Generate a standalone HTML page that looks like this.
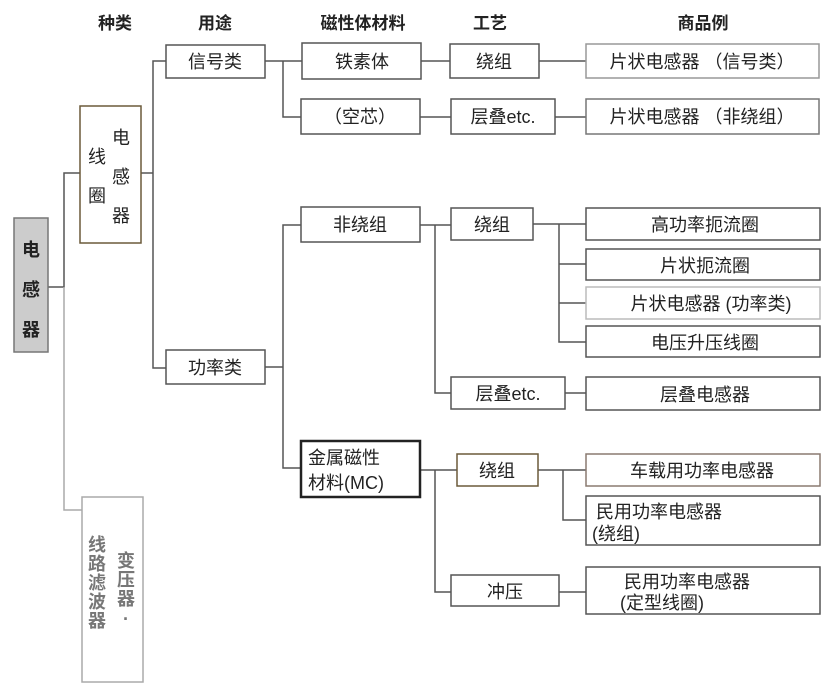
<!DOCTYPE html>
<html><head><meta charset="utf-8"><style>
html,body{margin:0;padding:0;background:#fff;}
svg{display:block;}
text{font-family:"Liberation Sans","Noto Sans CJK SC",sans-serif;fill:#222;}
</style></head><body>
<svg width="831" height="688" viewBox="0 0 831 688">
<g font-size="17" font-weight="bold" text-anchor="middle">
<text x="115" y="29">种类</text>
<text x="215" y="29">用途</text>
<text x="363" y="29">磁性体材料</text>
<text x="490" y="29">工艺</text>
<text x="703" y="29">商品例</text>
</g>
<g fill="none" stroke="#555" stroke-width="1.5">
<polyline points="48,287 64,287 64,173 80,173"/>
<polyline points="64,287 64,510 82,510" stroke="#aaa"/>
<polyline points="141,173 153,173"/>
<polyline points="166,61 153,61 153,368 166,368"/>
<polyline points="265,61 302,61"/>
<polyline points="283,61 283,117 301,117"/>
<polyline points="421,61 450,61"/>
<polyline points="420,117 451,117"/>
<polyline points="539,61 586,61"/>
<polyline points="555,117 586,117"/>
<polyline points="265,367 283,367"/>
<polyline points="301,225 283,225 283,468 301,468"/>
<polyline points="420,225 451,225"/>
<polyline points="435,225 435,393 451,393"/>
<polyline points="533,224 586,224"/>
<polyline points="559,224 559,342 586,342"/>
<polyline points="559,264 586,264"/>
<polyline points="559,303 586,303"/>
<polyline points="565,393 586,393"/>
<polyline points="420,470 457,470"/>
<polyline points="435,470 435,592 451,592"/>
<polyline points="538,470 586,470"/>
<polyline points="563,470 563,520 586,520"/>
<polyline points="559,592 586,592"/>
</g>
<g stroke-width="1.5" fill="#fff">
<rect x="14" y="218" width="34" height="134" fill="#ccc" stroke="#777"/>
<rect x="80" y="106" width="61" height="137" stroke="#6b5a3a"/>
<rect x="82" y="497" width="61" height="185" stroke="#aaa"/>
<rect x="166" y="45" width="99" height="33" stroke="#555"/>
<rect x="166" y="350" width="99" height="34" stroke="#555"/>
<rect x="302" y="43" width="119" height="36" stroke="#555"/>
<rect x="301" y="99" width="119" height="35" stroke="#555"/>
<rect x="301" y="207" width="119" height="35" stroke="#555"/>
<rect x="301" y="441" width="119" height="56" stroke="#222" stroke-width="2.5"/>
<rect x="450" y="44" width="89" height="34" stroke="#555"/>
<rect x="451" y="99" width="104" height="35" stroke="#555"/>
<rect x="451" y="208" width="82" height="32" stroke="#555"/>
<rect x="451" y="377" width="114" height="32" stroke="#555"/>
<rect x="457" y="454" width="81" height="32" stroke="#6b5a3a"/>
<rect x="451" y="575" width="108" height="31" stroke="#555"/>
<rect x="586" y="44" width="233" height="34" stroke="#999"/>
<rect x="586" y="99" width="233" height="35" stroke="#777"/>
<rect x="586" y="208" width="234" height="32" stroke="#555"/>
<rect x="586" y="249" width="234" height="31" stroke="#555"/>
<rect x="586" y="287" width="234" height="32" stroke="#bbb"/>
<rect x="586" y="326" width="234" height="31" stroke="#555"/>
<rect x="586" y="377" width="234" height="33" stroke="#555"/>
<rect x="586" y="454" width="234" height="32" stroke="#8a7a70"/>
<rect x="586" y="496" width="234" height="49" stroke="#555"/>
<rect x="586" y="567" width="234" height="47" stroke="#555"/>
</g>
<g font-size="18" text-anchor="middle">
<text x="31" y="256" font-weight="bold">电</text>
<text x="31" y="296" font-weight="bold">感</text>
<text x="31" y="336" font-weight="bold">器</text>
<text x="121" y="144">电</text>
<text x="121" y="183">感</text>
<text x="121" y="222">器</text>
<text x="97" y="163">线</text>
<text x="97" y="202">圈</text>
<g font-weight="bold">
<text x="97" y="551" style="fill:#777">线</text><text x="97" y="570" style="fill:#777">路</text><text x="97" y="589" style="fill:#777">滤</text><text x="97" y="608" style="fill:#777">波</text><text x="97" y="627" style="fill:#777">器</text>
<text x="126" y="567" style="fill:#777">变</text><text x="126" y="586" style="fill:#777">压</text><text x="126" y="605" style="fill:#777">器</text><text x="126" y="625" style="fill:#777">·</text>
</g>
<text x="215" y="68">信号类</text>
<text x="215" y="374">功率类</text>
<text x="362" y="68">铁素体</text>
<text x="360" y="123">（空芯）</text>
<text x="360" y="231">非绕组</text>
<text x="308" y="464" text-anchor="start">金属磁性</text>
<text x="308" y="489" text-anchor="start">材料(MC)</text>
<text x="494" y="68">绕组</text>
<text x="503" y="123">层叠etc.</text>
<text x="492" y="231">绕组</text>
<text x="508" y="400">层叠etc.</text>
<text x="497" y="477">绕组</text>
<text x="505" y="598">冲压</text>
<text x="702" y="68">片状电感器 （信号类）</text>
<text x="702" y="123">片状电感器 （非绕组）</text>
<text x="705" y="231">高功率扼流圈</text>
<text x="705" y="272">片状扼流圈</text>
<text x="711" y="310">片状电感器 (功率类)</text>
<text x="705" y="349">电压升压线圈</text>
<text x="705" y="401">层叠电感器</text>
<text x="702" y="477">车载用功率电感器</text>
<text x="596" y="518" text-anchor="start">民用功率电感器</text>
<text x="592" y="540" text-anchor="start">(绕组)</text>
<text x="624" y="588" text-anchor="start">民用功率电感器</text>
<text x="620" y="609" text-anchor="start">(定型线圈)</text>
</g>
</svg>
</body></html>
